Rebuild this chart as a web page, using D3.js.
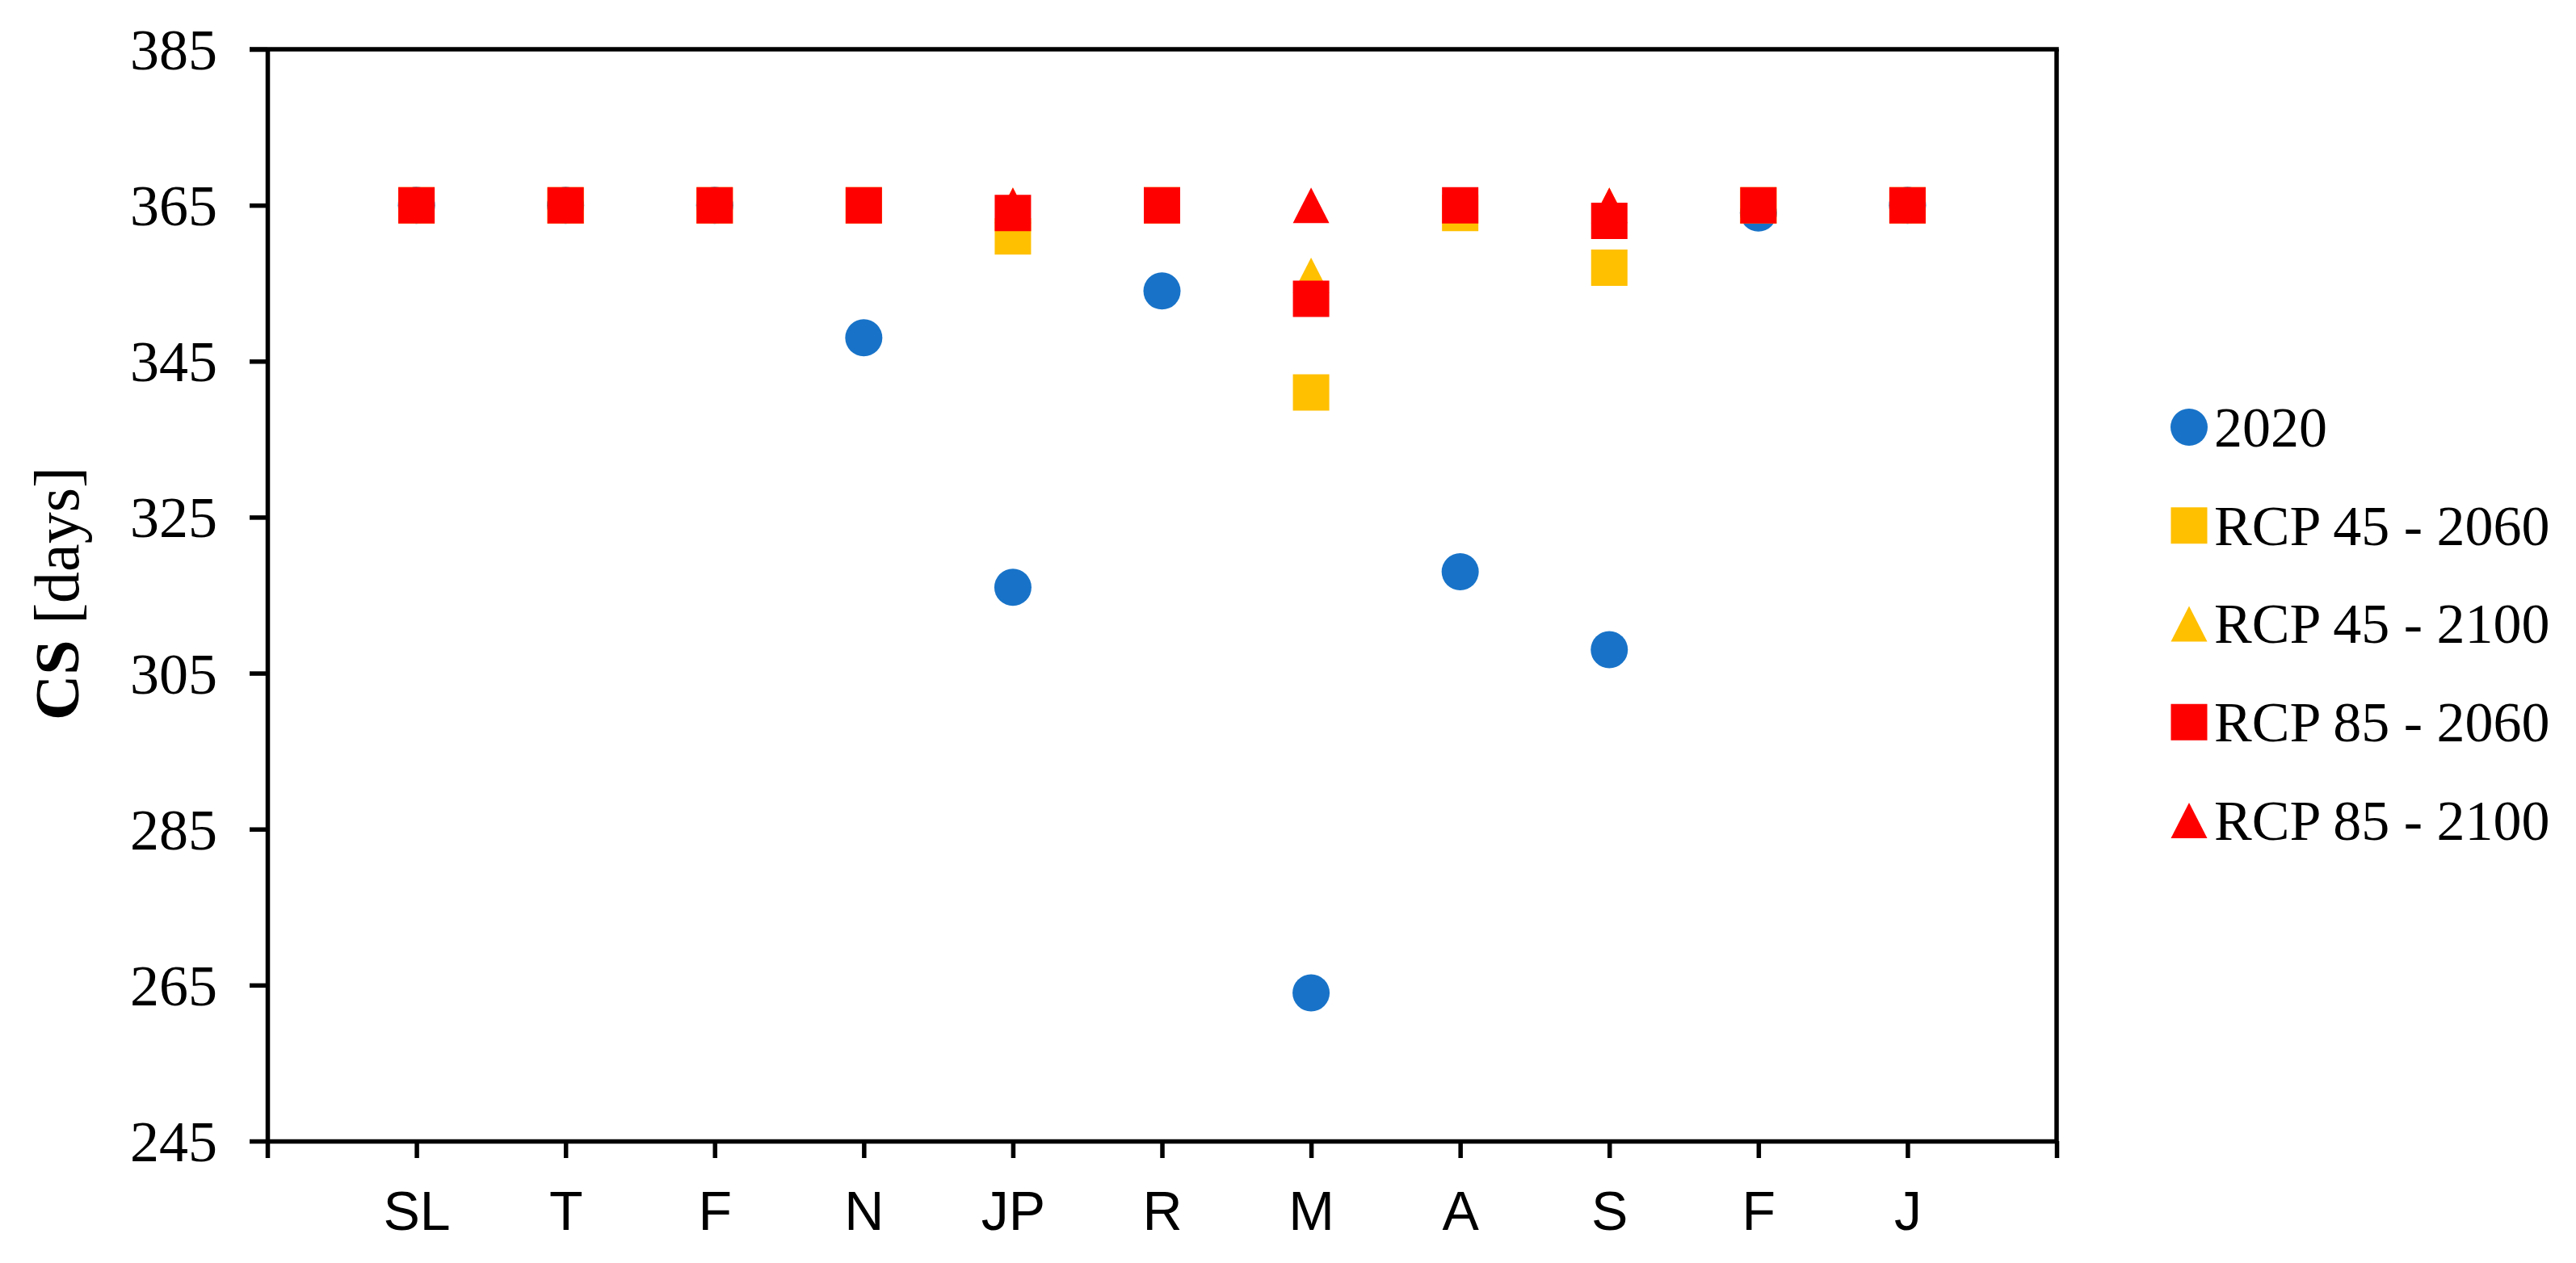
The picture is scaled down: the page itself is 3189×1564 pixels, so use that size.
<!DOCTYPE html>
<html>
<head>
<style>
body { margin: 0; background: #fff; }
#chart { display: block; }
.serif { font-family: "Liberation Serif", "Times New Roman", serif; }
.sans { font-family: "Liberation Sans", Arial, sans-serif; }
</style>
</head>
<body>
<svg id="chart" width="3189" height="1564"></svg>
<script src="https://d3js.org/d3.v7.min.js"></script>
<script>
// sites along the x axis
const categories = ["SL", "T", "F", "N", "JP", "R", "M", "A", "S", "F", "J"];
const yTicks = [245, 265, 285, 305, 325, 345, 365, 385];

// CS values in days
const cs2020     = [365, 365, 365, 348, 316, 354, 264, 318, 308, 364, 365];
const rcp45_2060 = [365, 365, 365, 365, 361, 365, 341, 364, 357, 365, 365];
const rcp45_2100 = [365, 365, 365, 365, 365, 365, 356, 365, 365, 365, 365];
const rcp85_2060 = [365, 365, 365, 365, 364, 365, 353, 365, 363, 365, 365];
const rcp85_2100 = [365, 365, 365, 365, 365, 365, 365, 365, 365, 365, 365];

const seriesNames = ["2020", "RCP 45 - 2060", "RCP 45 - 2100", "RCP 85 - 2060", "RCP 85 - 2100"];

const blue = "#1873c8", gold = "#ffc000", red = "#ff0000";

// marker shapes, drawn around (0,0)
const msize = 45;
const squareShape = { draw(ctx) { const h = msize / 2; ctx.rect(-h, -h, msize, msize); } };
const triShape = { draw(ctx) { const w = msize / 2, h = 22; ctx.moveTo(0, -h); ctx.lineTo(w, h); ctx.lineTo(-w, h); ctx.closePath(); } };
const circleShape = { draw(ctx) { ctx.moveTo(23, 0); ctx.arc(0, 0, 23, 0, 2 * Math.PI); } };

const series = [
    { name: seriesNames[0], values: cs2020, color: blue, shape: circleShape },
    { name: seriesNames[1], values: rcp45_2060, color: gold, shape: squareShape },
    { name: seriesNames[2], values: rcp45_2100, color: gold, shape: triShape },
    { name: seriesNames[3], values: rcp85_2060, color: red, shape: squareShape },
    { name: seriesNames[4], values: rcp85_2100, color: red, shape: triShape }
];
// squares sit on top of the triangles in the picture
const drawOrder = [0, 2, 4, 1, 3];

const svg = d3.select("#chart");
const pLeft = 331, pRight = 2546, pTop = 61, pBottom = 1413;

const x = d3.scaleLinear().domain([0, categories.length + 1]).range([pLeft, pRight]);
const y = d3.scaleLinear().domain([245, 385]).range([pBottom, pTop]);

// y axis
const yAxis = svg.append("g")
    .attr("transform", `translate(${pLeft},0)`)
    .call(d3.axisLeft(y).tickValues(yTicks).tickSize(22).tickPadding(40).tickSizeOuter(0));
yAxis.select(".domain").attr("stroke-width", 5.5);
yAxis.selectAll(".tick line").attr("stroke-width", 5.5);
yAxis.selectAll("text").attr("class", "serif").attr("font-size", 72).attr("fill", "#000").attr("dy", "0.34em");

// x axis
const xAxis = svg.append("g")
    .attr("transform", `translate(0,${pBottom})`)
    .call(d3.axisBottom(x).tickValues(d3.range(0, categories.length + 2))
        .tickSize(21).tickPadding(41).tickSizeOuter(0)
        .tickFormat(i => categories[i - 1] || ""));
xAxis.select(".domain").attr("stroke-width", 5.5);
xAxis.selectAll(".tick line").attr("stroke-width", 5.5);
xAxis.selectAll("text").attr("class", "sans").attr("font-size", 68).attr("fill", "#000");

// frame: top and right edges
svg.append("line")
    .attr("x1", pLeft - 22).attr("x2", x(categories.length + 1) + 2.75)
    .attr("y1", y(385)).attr("y2", y(385))
    .attr("stroke", "#000").attr("stroke-width", 5.5);
svg.append("line")
    .attr("x1", x(categories.length + 1)).attr("x2", x(categories.length + 1))
    .attr("y1", y(385)).attr("y2", y(245))
    .attr("stroke", "#000").attr("stroke-width", 5.5);

// y title
svg.append("text")
    .attr("class", "serif")
    .attr("transform", "translate(97,735) rotate(-90)")
    .attr("text-anchor", "middle")
    .attr("font-size", 78)
    .call(t => {
        t.append("tspan").attr("font-weight", "bold").text("CS");
        t.append("tspan").text(" [days]");
    });

// points
drawOrder.forEach(k => {
    const s = series[k];
    svg.append("g").selectAll("path")
        .data(s.values)
        .join("path")
        .attr("d", d3.symbol().type(s.shape))
        .attr("transform", (d, i) => `translate(${x(i + 1)},${y(d)})`)
        .attr("fill", s.color);
});

// legend
const legend = svg.append("g");
const rowY = d3.scaleLinear().domain([0, 4]).range([529, 1016]);
series.forEach((s, i) => {
    legend.append("path")
        .attr("d", d3.symbol().type(s.shape))
        .attr("transform", `translate(2710,${rowY(i)})`)
        .attr("fill", s.color);
    legend.append("text")
        .attr("class", "serif")
        .attr("x", 2741)
        .attr("y", rowY(i))
        .attr("dy", "0.34em")
        .attr("font-size", 70)
        .text(s.name);
});
</script>
</body>
</html>
